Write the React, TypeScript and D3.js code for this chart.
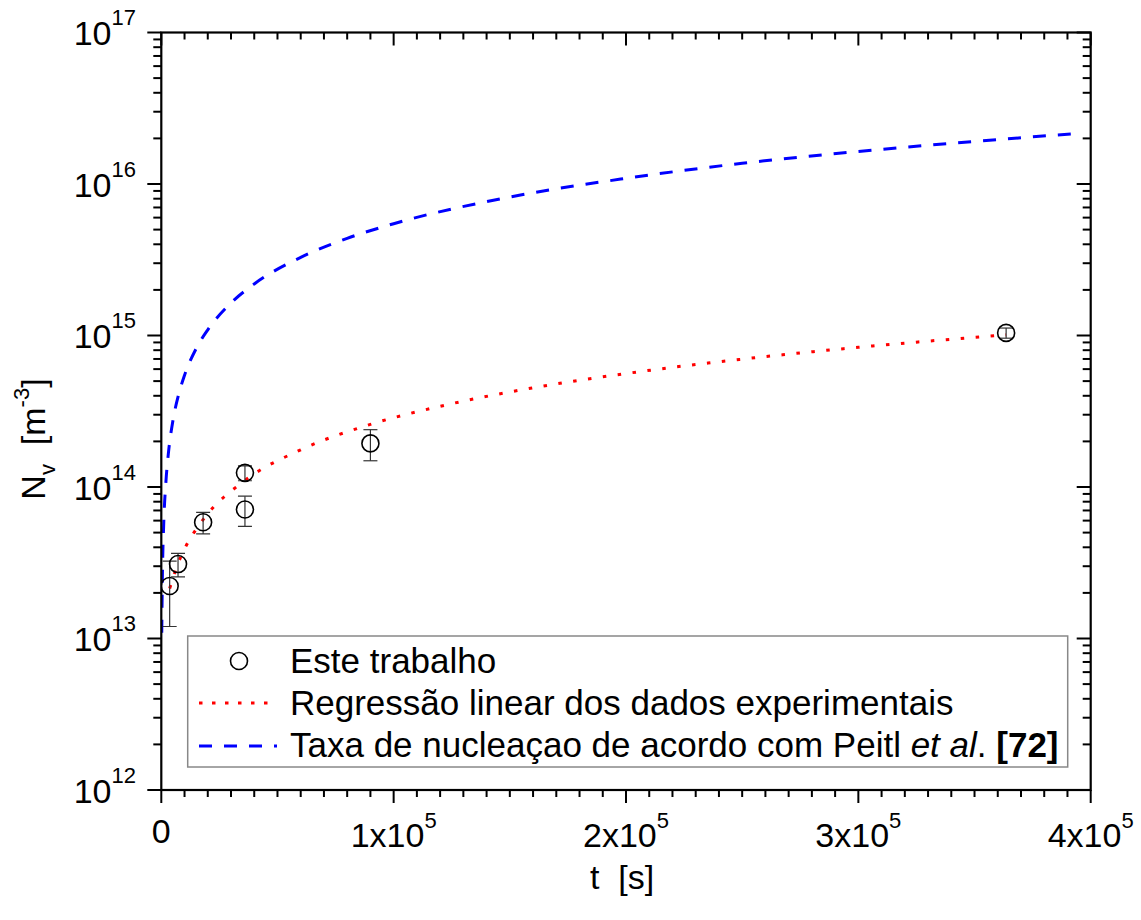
import React from "react";
import * as d3 from "d3";

// Experimental data: t [s], Nv [m^-3], error
const expT = [3600, 7200, 18000, 36000, 36000, 90000, 363600];
const expN = [2.22e13, 3.1e13, 5.85e13, 1.24e14, 7.1e13, 1.94e14, 1.04e15];
const expErr = [1.02e13, 0.55e13, 0.95e13, 0.14e14, 1.6e13, 0.45e14, 0.08e15];

const regT = [3600, 7200, 10000, 18000, 36000, 60000, 90000, 120000, 150000, 200000, 250000, 300000, 363600];
const regN = [2.14e13, 3.13e13, 3.9e13, 6.09e13, 1.104e14, 1.76e14, 2.59e14, 3.41e14, 4.24e14, 5.61e14, 6.98e14, 8.36e14, 1.01e15];

// Nucleation rate per Peitl et al.
const peitlT = [200, 500, 1000, 2000, 3000, 5000, 7500, 10000, 15000, 20000, 30000, 40000, 60000, 80000, 100000, 150000, 200000, 250000, 300000, 350000, 395000];
const peitlN = [1.09e13, 2.74e13, 5.47e13, 1.09e14, 1.64e14, 2.74e14, 4.1e14, 5.47e14, 8.2e14, 1.09e15, 1.64e15, 2.19e15, 3.28e15, 4.38e15, 5.47e15, 8.2e15, 1.09e16, 1.37e16, 1.64e16, 1.91e16, 2.16e16];

const xMajor = [0, 1e5, 2e5, 3e5, 4e5];
const xMajorMant = ["0", "1", "2", "3", "4"];
const yExponents = [12, 13, 14, 15, 16, 17];

const FONT = "'Liberation Sans', Arial, sans-serif";

export default function App() {
  const L = 161.3, R = 1090.7, T = 32.5, B = 790;
  const x = d3.scaleLinear().domain([0, 4e5]).range([L, R]);
  const y = d3.scaleLog().domain([1e12, 1e17]).range([B, T]);

  const xMinor = d3.range(0, 4e5 + 1, 1e4).filter((v) => v % 1e5 !== 0);
  const yMinor: number[] = [];
  for (let k = 12; k < 17; k++) for (let m = 2; m <= 9; m++) yMinor.push(m * Math.pow(10, k));

  const line = d3
    .line<[number, number]>()
    .x((d) => x(d[0]))
    .y((d) => y(d[1]))
    .curve(d3.curveMonotoneX);

  const regPath = line(regT.map((t, i) => [t, regN[i]] as [number, number])) || "";
  const peitlPath = line(peitlT.map((t, i) => [t, peitlN[i]] as [number, number])) || "";

  const tickW = 2;
  const fs = 34;
  const sup = 22;
  const lfs = 35;

  return (
    <svg width={1141} height={920} style={{ position: "absolute", left: 0, top: 0, background: "#fff" }} fontFamily={FONT}>
      <rect x={0} y={0} width={1141} height={920} fill="#fff" />
      <defs>
        <clipPath id="plot">
          <rect x={L} y={T} width={R - L} height={B - T} />
        </clipPath>
      </defs>

      {/* curves */}
      <g clipPath="url(#plot)">
        <path d={peitlPath} fill="none" stroke="#0000ff" strokeWidth={3} strokeDasharray="13 12" />
        <path d={regPath} fill="none" stroke="#ff0000" strokeWidth={3} strokeDasharray="3.5 11.5" />
        {expT.map((t, i) => {
          const cx = x(t);
          const y1 = y(expN[i] + expErr[i]);
          const y0 = y(expN[i] - expErr[i]);
          return (
            <g key={i}>
              <line x1={cx} x2={cx} y1={y1} y2={y0} stroke="#333" strokeWidth={1.2} />
              <line x1={cx - 7} x2={cx + 7} y1={y1} y2={y1} stroke="#333" strokeWidth={1.2} />
              <line x1={cx - 7} x2={cx + 7} y1={y0} y2={y0} stroke="#333" strokeWidth={1.2} />
              <circle cx={cx} cy={y(expN[i])} r={8.5} fill="none" stroke="#000" strokeWidth={1.6} />
            </g>
          );
        })}
      </g>

      {/* frame */}
      <rect x={L} y={T} width={R - L} height={B - T} fill="none" stroke="#000" strokeWidth={2.2} />

      {/* x ticks */}
      {xMajor.map((v) => (
        <g key={"xm" + v}>
          <line x1={x(v)} x2={x(v)} y1={B} y2={B + 13} stroke="#000" strokeWidth={tickW} />
          <line x1={x(v)} x2={x(v)} y1={T} y2={T + 13} stroke="#000" strokeWidth={tickW} />
        </g>
      ))}
      {xMinor.map((v) => (
        <g key={"xn" + v}>
          <line x1={x(v)} x2={x(v)} y1={B} y2={B + 7} stroke="#000" strokeWidth={tickW} />
          <line x1={x(v)} x2={x(v)} y1={T} y2={T + 7} stroke="#000" strokeWidth={tickW} />
        </g>
      ))}
      {/* y ticks */}
      {yExponents.map((e) => {
        const yy = y(Math.pow(10, e));
        return (
          <g key={"ym" + e}>
            <line x1={L - 14} x2={L} y1={yy} y2={yy} stroke="#000" strokeWidth={tickW} />
            <line x1={R - 14} x2={R} y1={yy} y2={yy} stroke="#000" strokeWidth={tickW} />
          </g>
        );
      })}
      {yMinor.map((v, i) => {
        const yy = y(v);
        return (
          <g key={"yn" + i}>
            <line x1={L - 8} x2={L} y1={yy} y2={yy} stroke="#000" strokeWidth={tickW} />
            <line x1={R - 8} x2={R} y1={yy} y2={yy} stroke="#000" strokeWidth={tickW} />
          </g>
        );
      })}

      {/* y tick labels */}
      {yExponents.map((e) => {
        const yy = y(Math.pow(10, e));
        return (
          <text key={"yl" + e} x={136} y={yy + 12.5} textAnchor="end" fontSize={fs} fill="#000">
            10
            <tspan fontSize={sup} dy={-20}>
              {e}
            </tspan>
          </text>
        );
      })}

      {/* x tick labels */}
      {xMajor.map((v, i) =>
        v === 0 ? (
          <text key={"xl" + v} x={x(v)} y={843} textAnchor="middle" fontSize={fs} fill="#000">
            0
          </text>
        ) : (
          <text key={"xl" + v} x={x(v)} y={847} textAnchor="middle" fontSize={fs} fill="#000">
            {xMajorMant[i]}x10
            <tspan fontSize={sup} dy={-19}>
              5
            </tspan>
          </text>
        )
      )}

      {/* axis titles */}
      <text x={622} y={889} textAnchor="middle" fontSize={fs} fill="#000" xmlSpace="preserve">
        t  [s]
      </text>
      <text transform="translate(45,439) rotate(-90)" textAnchor="middle" fontSize={fs} fill="#000" xmlSpace="preserve">
        N
        <tspan fontSize={sup} dy={10}>
          v
        </tspan>
        <tspan dy={-10}>  [m</tspan>
        <tspan fontSize={sup} dy={-16}>
          -3
        </tspan>
        <tspan dy={16}>]</tspan>
      </text>

      {/* legend */}
      <rect x={187.7} y={636} width={880} height={131} fill="#fff" stroke="#888" strokeWidth={1.5} />
      <circle cx={239} cy={661} r={8.5} fill="none" stroke="#000" strokeWidth={1.6} />
      <line x1={199} x2={277} y1={703} y2={703} stroke="#ff0000" strokeWidth={3} strokeDasharray="3.5 9.5" />
      <line x1={199} x2={277} y1={746} y2={746} stroke="#0000ff" strokeWidth={3} strokeDasharray="13 12" />
      <text x={290} y={673} fontSize={lfs} fill="#000">
        Este trabalho
      </text>
      <text x={290} y={715} fontSize={lfs} fill="#000">
        Regressão linear dos dados experimentais
      </text>
      <text x={290} y={757} fontSize={lfs} fill="#000" xmlSpace="preserve">
        Taxa de nucleaçao de acordo com Peitl <tspan fontStyle="italic">et al</tspan>. <tspan fontWeight="bold">[72]</tspan>
      </text>
    </svg>
  );
}
